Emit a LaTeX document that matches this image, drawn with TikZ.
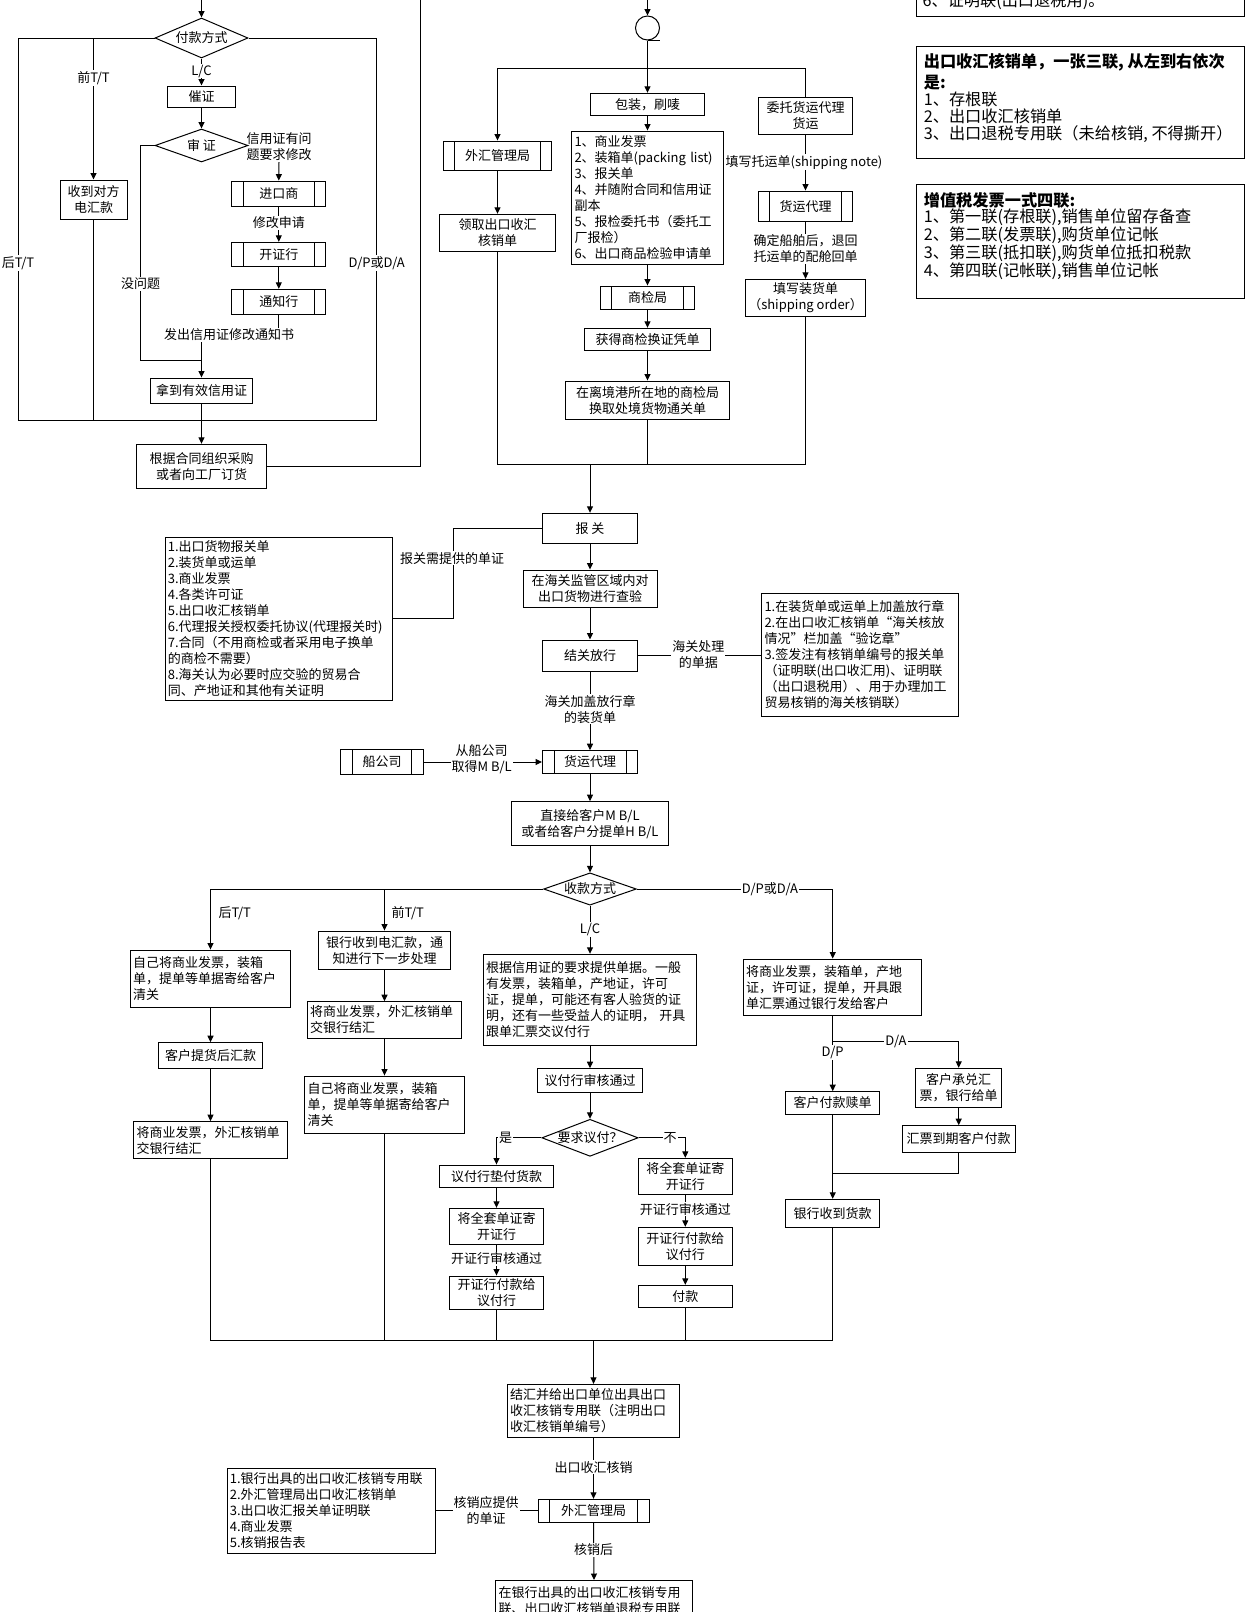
\documentclass[tikz,border=0pt]{standalone}
\usepackage{fontspec}
\setmainfont{Noto Sans CJK SC}
\usetikzlibrary{arrows.meta,shapes.geometric}
\begin{document}
\begin{tikzpicture}[x=1pt,y=-1pt,line width=1pt,
  every node/.style={font=\fontsize{13}{16}\selectfont},
  box/.style={draw,rectangle,inner sep=2.5pt,align=center},
  lb/.style={box,align=left,text width=#1},
  proc/.style={box,path picture={
     \draw ([xshift=11.5pt]path picture bounding box.north west) -- ([xshift=11.5pt]path picture bounding box.south west);
     \draw ([xshift=-11.5pt]path picture bounding box.north east) -- ([xshift=-11.5pt]path picture bounding box.south east);}},
  dia/.style={draw,diamond,inner sep=0pt},
  arr/.style={-{Triangle[length=6.5pt,width=6pt]}},
  lbl/.style={fill=white,inner sep=1pt,align=center},
  big/.style={font=\fontsize{16.2}{16.8}\selectfont}]
\useasboundingbox (0,0) rectangle (1246,1612);
\clip (0,0) rectangle (1246,1612);

% ================= top-left block =================
\coordinate (tl0) at (201.5,-5);
\node[dia,minimum width=93,minimum height=40,aspect=2.3] (d1) at (201.5,38) {付款方式};
\node[box,minimum width=67,minimum height=39] (recv) at (93.5,199.5) {收到对方\\电汇款};
\node[box,minimum width=68,minimum height=21] (cz) at (201.5,96.5) {催证};
\node[dia,minimum width=93,minimum height=33,aspect=2.8] (d2) at (201.5,145.5) {审 证};
\node[proc,minimum width=94.3,minimum height=25.7] (jks) at (278.8,194) {进口商};
\node[proc,minimum width=94.3,minimum height=24.4] (kzh1) at (278.8,254.5) {开证行};
\node[proc,minimum width=94.3,minimum height=25] (tzh) at (278.8,301.8) {通知行};
\node[box,minimum width=102.6,minimum height=25.3] (nd) at (201.5,390.7) {拿到有效信用证};
\node[box,minimum width=130,minimum height=44] (gj) at (201.5,466.3) {根据合同组织采购\\或者向工厂订货};

\draw[arr] (tl0) -- (d1.north);
\coordinate (lft) at (18,420);
\coordinate (rgt) at (376.7,420);
\draw (d1.west) -| (lft) -- (rgt);
\draw (d1.east) -| (rgt);
\coordinate (jq) at (recv.north |- d1.west);
\draw[arr] (jq) -- (recv.north);
\draw (recv.south) -- (recv.south |- lft);
\node[lbl] (l1) at (18,263) {后T/T};
\node[lbl] (l2) at (93.5,78) {前T/T};
\node[lbl] (l3) at (376.7,263) {D/P或D/A};
\draw[arr] (d1.south) -- (cz.north);
\node[lbl] (l0) at (201.5,71) {L/C};
\draw[arr] (cz.south) -- (d2.north);
\node[align=center,inner sep=1pt] (l4) at (279,146.5) {信用证有问\\题要求修改};
\draw[arr] (l4.south) -- (jks.north);
\draw[arr] (jks.south) -- (kzh1.north);
\node[lbl] (l5) at (278.8,223) {修改申请};
\draw[arr] (kzh1.south) -- (tzh.north);
\coordinate (fc) at (tzh.south |- 0,335);
\draw[arr] (tzh.south) -- (fc) -| (nd.north);
\node[lbl] (l6) at (229,335) {发出信用证修改通知书};
\coordinate (nw) at (140.7,360);
\draw (d2.west) -| (nw) -- (nd.north |- nw);
\node[lbl] (l7) at (140.7,284) {没问题};
\draw[arr] (nd.south) -- (gj.north);
\coordinate (up1) at (420.7,-5);
\draw (gj.east) -| (up1);

% ================= top-middle block =================
\coordinate (tm0) at (647.5,-5);
\node[draw,circle,minimum size=24,inner sep=0] (c1) at (647.5,28) {};
\draw[arr] (tm0) -- (c1.north);
\draw (c1.south) -- ++(12.5,0);
\node[box,minimum width=114.3,minimum height=22.4] (bz) at (647.5,104.5) {包装，刷唛};
\node[proc,minimum width=108.4,minimum height=29.3] (wh1) at (497.5,155.7) {外汇管理局};
\node[box,minimum width=116.4,minimum height=37.4] (lq) at (497.5,233) {领取出口收汇\\核销单};
\node[lb=146,minimum width=151.6,minimum height=133.3] (list1) at (647.5,197.7)
 {1、商业发票\\2、装箱单(packing list)\\3、报关单\\4、并随附合同和信用证\\副本\\5、报检委托书（委托工\\厂报检）\\6、出口商品检验申请单};
\node[proc,minimum width=94.3,minimum height=23.3] (sj) at (647.5,297.7) {商检局};
\node[box,minimum width=126.4,minimum height=22] (hd) at (647.5,339.3) {获得商检换证凭单};
\node[box,minimum width=164.3,minimum height=38.3] (zl) at (647.5,400.2) {在离境港所在地的商检局\\换取处境货物通关单};
\node[box,minimum width=94.4,minimum height=37] (wt) at (805.5,115.8) {委托货运代理\\货运};
\node[proc,minimum width=94.4,minimum height=30.3] (hy1) at (805.5,206.2) {货运代理};
\node[box,minimum width=118.6,minimum height=36.7] (tx) at (805.5,297.7) {填写装货单\\（shipping order）};

\coordinate (bl) at (497.5,68.3);
\coordinate (br) at (805.5,68.3);
\draw (bl) -- (br);
\draw[arr] (c1.south) -- (bz.north);
\draw[arr] (bl) -- (wh1.north);
\draw (br) -- (wt.north);
\draw[arr] (wh1.south) -- (lq.north);
\draw[arr] (bz.south) -- (list1.north);
\draw[arr] (list1.south) -- (sj.north);
\draw[arr] (sj.south) -- (hd.north);
\draw[arr] (hd.south) -- (zl.north);
\draw[arr] (wt.south) -- (hy1.north);
\node[lbl] (l8) at (804,162.3) {填写托运单(shipping note)};
\draw[arr] (hy1.south) -- (tx.north);
\node[lbl] (l9) at (805.5,248.7) {确定船舶后，退回\\托运单的配舱回单};
\coordinate (ml) at (497.5,464.3);
\coordinate (mr) at (805.5,464.3);
\draw (lq.south) -- (ml) -- (mr) -- (tx.south);
\draw (zl.south) -- (zl.south |- ml);

% ================= customs block =================
\node[box,minimum width=95,minimum height=30] (bg) at (590,528.3) {报 关};
\coordinate (mj) at (bg.north |- ml);
\draw[arr] (mj) -- (bg.north);
\node[lb=222,minimum width=227,minimum height=162.7] (list2) at (278.8,618.7)
 {1.出口货物报关单\\2.装货单或运单\\3.商业发票\\4.各类许可证\\5.出口收汇核销单\\6.代理报关授权委托协议(代理报关时)\\7.合同（不用商检或者采用电子换单\\的商检不需要）\\8.海关认为必要时应交验的贸易合\\同、产地证和其他有关证明};
\coordinate (bq) at (453.3,528.3);
\draw (bg.west) -- (bq) |- (list2.east);
\node[lbl] (l10) at (452,558.3) {报关需提供的单证};
\node[box,minimum width=134,minimum height=37.3] (cy) at (590,588.7) {在海关监管区域内对\\出口货物进行查验};
\draw[arr] (bg.south) -- (cy.north);
\node[box,minimum width=95,minimum height=31] (jg) at (590,655.5) {结关放行};
\draw[arr] (cy.south) -- (jg.north);
\node[lb=191,minimum width=196.6,minimum height=123.4] (list3) at (860,655)
 {1.在装货单或运单上加盖放行章\\2.在出口收汇核销单“海关核放\\情况”栏加盖“验讫章”\\3.签发注有核销单编号的报关单\\（证明联(出口收汇用)、证明联\\（出口退税用）、用于办理加工\\贸易核销的海关核销联）};
\draw (jg.east) -- (jg.east -| list3.west);
\node[lbl] (l11) at (698.3,654.7) {海关处理\\的单据};
\node[proc,minimum width=95,minimum height=22.6] (hy2) at (590,762) {货运代理};
\draw[arr] (jg.south) -- (hy2.north);
\node[lbl] (l12) at (590,709) {海关加盖放行章\\的装货单};
\node[proc,minimum width=82.6,minimum height=25] (cgs) at (382,762) {船公司};
\draw[arr] (cgs.east) -- (hy2.west);
\node[lbl] (l13) at (481.7,759.5) {从船公司\\取得M B/L};
\node[box,minimum width=156.6,minimum height=44.3] (zj) at (590,823.8) {直接给客户M B/L\\或者给客户分提单H B/L};
\draw[arr] (hy2.south) -- (zj.north);
\node[dia,minimum width=92.7,minimum height=32.3,aspect=2.87] (d3) at (590,889) {收款方式};
\draw[arr] (zj.south) -- (d3.north);

% ================= collection branches =================
\node[lb=155,minimum width=160,minimum height=57.3] (a1) at (210.5,978.7) {自己将商业发票，装箱\\单，提单等单据寄给客户\\清关};
\node[box,minimum width=104,minimum height=25.6] (a2) at (210.5,1055.5) {客户提货后汇款};
\node[lb=148,minimum width=153.4,minimum height=37.3] (a3) at (210.5,1140.3) {将商业发票，外汇核销单\\交银行结汇};
\node[box,minimum width=132.4,minimum height=38.3] (b1) at (384.5,950.2) {银行收到电汇款，通\\知进行下一步处理};
\node[lb=149,minimum width=154.4,minimum height=36.6] (b2) at (384.5,1020) {将商业发票，外汇核销单\\交银行结汇};
\node[lb=154,minimum width=159.6,minimum height=57.3] (b3) at (384.5,1104.7) {自己将商业发票，装箱\\单，提单等单据寄给客户\\清关};
\node[lb=208,minimum width=213.4,minimum height=91] (c1b) at (590,999.8) {根据信用证的要求提供单据。一般\\有发票，装箱单，产地证，许可\\证，提单，可能还有客人验货的证\\明，还有一些受益人的证明， 开具\\跟单汇票交议付行};
\node[box,minimum width=105,minimum height=23.6] (c2) at (590,1080.5) {议付行审核通过};
\node[dia,minimum width=92.7,minimum height=35.7,aspect=2.6] (d4) at (590,1137.8) {要求议付？};
\node[box,minimum width=114,minimum height=22.3] (c3) at (496.5,1176.2) {议付行垫付货款};
\node[box,minimum width=94,minimum height=36] (c4) at (496.5,1226.3) {将全套单证寄\\开证行};
\node[box,minimum width=94,minimum height=33.3] (c5) at (496.5,1292.7) {开证行付款给\\议付行};
\node[box,minimum width=94,minimum height=36] (c6) at (685.3,1176.3) {将全套单证寄\\开证行};
\node[box,minimum width=94,minimum height=38] (c7) at (685.3,1246.3) {开证行付款给\\议付行};
\node[box,minimum width=94,minimum height=22] (c8) at (685.3,1296.3) {付款};
\node[lb=173,minimum width=178.4,minimum height=56.3] (e1) at (832.7,987.2) {将商业发票，装箱单，产地\\证，许可证，提单，开具跟\\单汇票通过银行发给客户};
\node[box,minimum width=94.3,minimum height=22.6] (e2) at (832.7,1103) {客户付款赎单};
\node[box,minimum width=86,minimum height=39] (e3) at (958.7,1087.8) {客户承兑汇\\票，银行给单};
\node[box,minimum width=113.4,minimum height=26.6] (e4) at (958.7,1139) {汇票到期客户付款};
\node[box,minimum width=94.3,minimum height=28.4] (e5) at (832.7,1213.5) {银行收到货款};

\coordinate (ka) at (a1.north |- d3.west);
\coordinate (kb) at (b1.north |- d3.west);
\coordinate (kd) at (e1.north |- d3.east);
\draw (d3.west) -- (ka);
\draw[arr] (ka) -- (a1.north);
\draw[arr] (kb) -- (b1.north);
\node[anchor=west,inner sep=1pt] (l14) at (217,913.3) {后T/T};
\node[anchor=west,inner sep=1pt] (l15) at (390,913.3) {前T/T};
\draw[arr] (d3.south) -- (c1b.north);
\node[lbl] (l16) at (590,929.3) {L/C};
\draw[arr] (d3.east) -- (kd) -- (e1.north);
\node[lbl] (l17) at (770,889) {D/P或D/A};

\draw[arr] (a1.south) -- (a2.north);
\draw[arr] (a2.south) -- (a3.north);
\draw[arr] (b1.south) -- (b2.north);
\draw[arr] (b2.south) -- (b3.north);
\draw[arr] (c1b.south) -- (c2.north);
\draw[arr] (c2.south) -- (d4.north);
\draw[arr] (d4.west) -| (c3.north);
\node[lbl] (l18) at (505.5,1137.8) {是};
\draw[arr] (c3.south) -- (c4.north);
\draw[arr] (c4.south) -- (c5.north);
\node[lbl] (l19) at (496.5,1259) {开证行审核通过};
\draw[arr] (d4.east) -| (c6.north);
\node[lbl] (l20) at (670,1137.8) {不};
\draw[arr] (c6.south) -- (c7.north);
\node[lbl] (l21) at (685.3,1209.3) {开证行审核通过};
\draw[arr] (c7.south) -- (c8.north);

\coordinate (dj) at (832.7,1041.7);
\draw (e1.south) -- (dj);
\draw[arr] (dj) -| (e3.north);
\node[lbl] (l22) at (896,1041.7) {D/A};
\draw[arr] (dj) -- (e2.north);
\node[lbl] (l23) at (832.7,1052.7) {D/P};
\draw[arr] (e3.south) -- (e4.north);
\coordinate (dm) at (832.7,1173.3);
\draw (e4.south) |- (dm);
\draw[arr] (e2.south) -- (e5.north);

% bottom collector
\coordinate (bb1) at (210.5,1340);
\coordinate (bb2) at (832.7,1340);
\draw (a3.south) -- (bb1) -- (bb2) -- (e5.south);
\draw (b3.south) -- (b3.south |- bb1);
\draw (c5.south) -- (c5.south |- bb1);
\draw (c8.south) -- (c8.south |- bb1);

% ================= final block =================
\node[lb=167,minimum width=172,minimum height=52.7] (f1) at (593.5,1410.7) {结汇并给出口单位出具出口\\收汇核销专用联（注明出口\\收汇核销单编号）};
\coordinate (fj) at (f1.north |- bb1);
\draw[arr] (fj) -- (f1.north);
\node[proc,minimum width=111,minimum height=23] (wh2) at (593.5,1510.8) {外汇管理局};
\draw[arr] (f1.south) -- (wh2.north);
\node[lbl] (l24) at (593.5,1467.3) {出口收汇核销};
\node[lb=203,minimum width=208,minimum height=85] (list4) at (331.3,1510.8)
 {1.银行出具的出口收汇核销专用联\\2.外汇管理局出口收汇核销单\\3.出口收汇报关单证明联\\4.商业发票\\5.核销报告表};
\draw (wh2.west) -- (list4.east);
\node[lbl] (l25) at (486,1510.3) {核销应提供\\的单证};
\node[lb=191,anchor=north,minimum width=196.6,minimum height=40] (last) at (594,1580) {在银行出具的出口收汇核销专用\\联、出口收汇核销单退税专用联};
\draw[arr] (wh2.south) -- (last.north);
\node[lbl] (l26) at (593.5,1550) {核销后};

% ================= top-right notes =================
\node[draw,minimum width=328.6,minimum height=60,anchor=south west,inner sep=0] (r0) at (915.7,17.3) {};
\node[big,anchor=west,inner sep=0] (r0t) at (922,1.5) {6、证明联(出口退税用)。};
\node[draw,minimum width=328.6,minimum height=112.6,anchor=north west,inner sep=0] (r1) at (915.7,45.7) {};
\node[big,anchor=north west,align=left,inner sep=0] (r1t) at (923.3,52.5)
 {\textbf{出口收汇核销单，一张三联, 从左到右依次}\\[3pt]\textbf{是:}\\[1pt]1、存根联\\2、出口收汇核销单\\3、出口退税专用联（未给核销, 不得撕开）};
\node[draw,minimum width=328.6,minimum height=113.7,anchor=north west,inner sep=0] (r2) at (915.7,184) {};
\node[big,anchor=north west,align=left,inner sep=0] (r2t) at (923.3,191.5)
 {\textbf{增值税发票一式四联:}\\1、第一联(存根联),销售单位留存备查\\2、第二联(发票联),购货单位记帐\\3、第三联(抵扣联),购货单位抵扣税款\\4、第四联(记帐联),销售单位记帐};
\end{tikzpicture}
\end{document}
